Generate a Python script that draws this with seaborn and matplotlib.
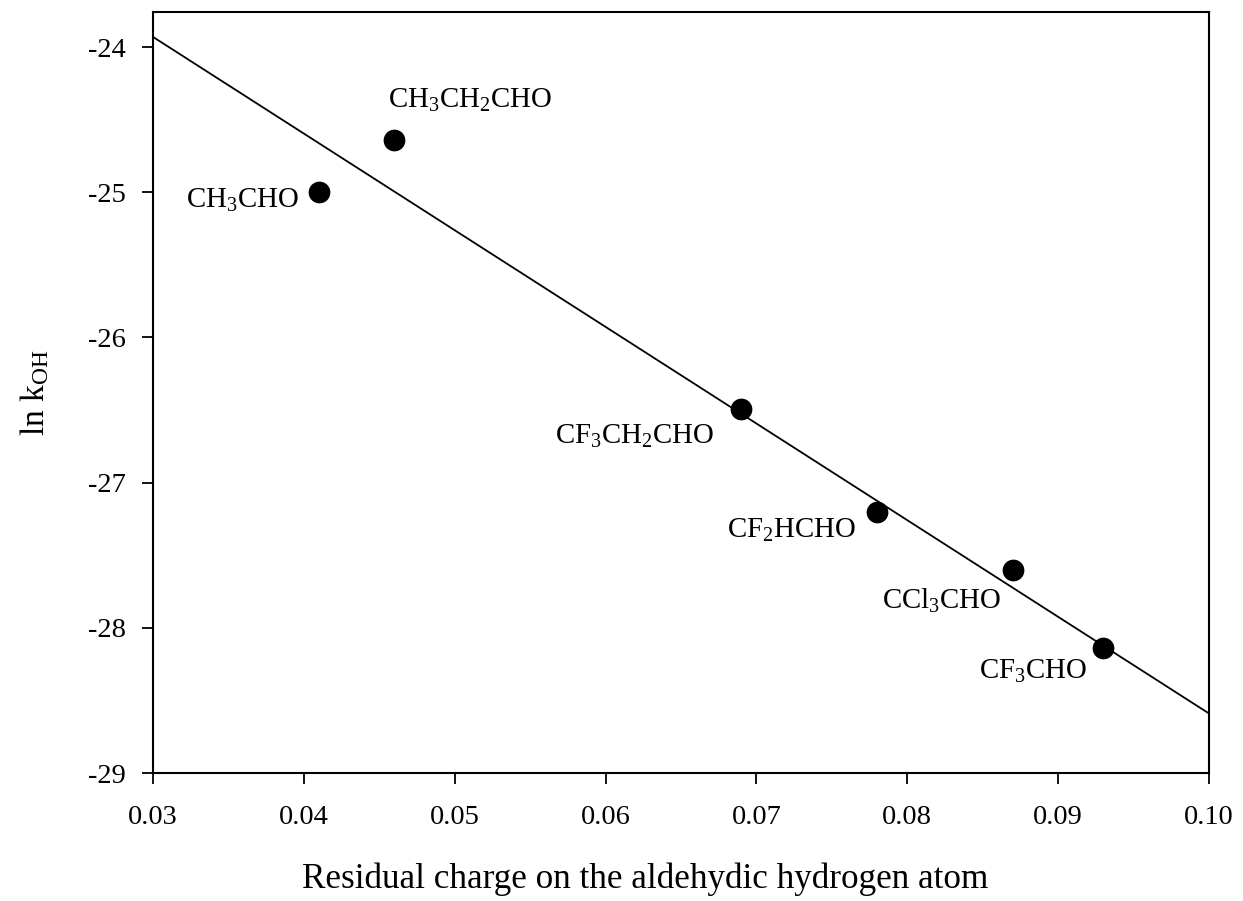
import matplotlib
matplotlib.use('Agg')
import matplotlib.pyplot as plt
import seaborn as sns
import pandas as pd

# data
compounds = ['CH$_3$CHO', 'CH$_3$CH$_2$CHO', 'CF$_3$CH$_2$CHO',
             'CF$_2$HCHO', 'CCl$_3$CHO', 'CF$_3$CHO']
charge = [0.041, 0.046, 0.069, 0.078, 0.087, 0.093]
ln_koh = [-25.0, -24.64, -26.49, -27.2, -27.6, -28.14]

# fitted line end points
fit_x = [0.03, 0.10]
fit_y = [-23.93, -28.59]

# label offsets (points) and anchor
label_offsets = [(-14.4, -11.5), (-4.3, 23.0), (-19.4, -25.2),
                 (-15.1, -18.7), (-8.6, -28.0), (-11.5, -22.3)]
label_ha = ['right', 'left', 'right', 'right', 'right', 'right']

df = pd.DataFrame({'charge': charge, 'ln_koh': ln_koh, 'name': compounds})

sns.set_style('ticks')
plt.rcParams['font.family'] = ['Liberation Serif', 'DejaVu Serif']
plt.rcParams['mathtext.fontset'] = 'custom'
plt.rcParams['mathtext.rm'] = 'Liberation Serif'
plt.rcParams['mathtext.it'] = 'Liberation Serif:italic'
plt.rcParams['mathtext.default'] = 'rm'
plt.rcParams['axes.unicode_minus'] = False
plt.rcParams['text.color'] = 'black'
plt.rcParams['axes.labelcolor'] = 'black'
plt.rcParams['xtick.color'] = 'black'
plt.rcParams['ytick.color'] = 'black'

fig = plt.figure(figsize=(12.43, 9.01), dpi=100)
ax = fig.add_axes([0.123, 0.142, 0.8497, 0.8445])

sns.lineplot(x=fit_x, y=fit_y, ax=ax, color='black', linewidth=1.3)
sns.scatterplot(data=df, x='charge', y='ln_koh', ax=ax, color='black',
                s=210, edgecolor='black', zorder=3)

for i, row in df.iterrows():
    ax.annotate(row['name'], (row['charge'], row['ln_koh']),
                xytext=label_offsets[i], textcoords='offset points',
                ha=label_ha[i], va='baseline', fontsize=20.8, color='black')

ax.set_xlim(0.03, 0.10)
ax.set_ylim(-29, -23.76)
ax.set_xticks([0.03, 0.04, 0.05, 0.06, 0.07, 0.08, 0.09, 0.10])
ax.set_xticklabels(['0.03', '0.04', '0.05', '0.06', '0.07', '0.08', '0.09', '0.10'])
ax.set_yticks([-29, -28, -27, -26, -25, -24])
ax.tick_params(direction='out', length=8, width=1.3, labelsize=20.5)
ax.tick_params(axis='x', pad=15)
ax.tick_params(axis='y', pad=11.5)
for sp in ax.spines.values():
    sp.set_linewidth(1.5)
    sp.set_color('black')

ax.set_xlabel('Residual charge on the aldehydic hydrogen atom', fontsize=25.3)
ax.xaxis.set_label_coords(0.466, -0.117)
ax.set_ylabel('ln k$_{\\rm OH}$', fontsize=24)
ax.yaxis.set_label_coords(-0.096, 0.5)

fig.savefig('out.png', dpi=100)
plt.close(fig)
